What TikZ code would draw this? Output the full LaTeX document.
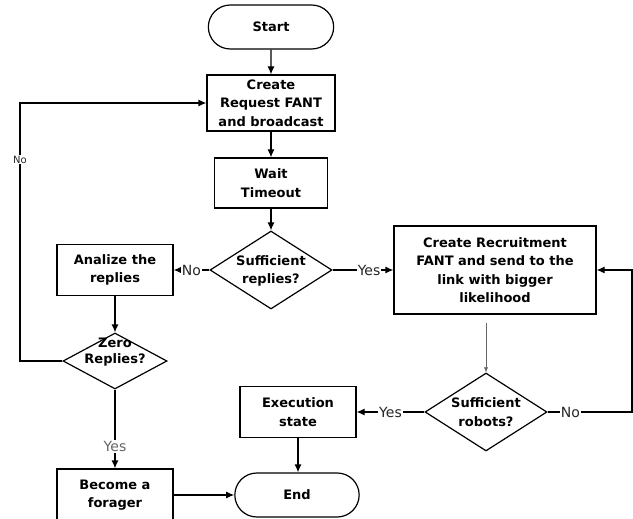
\documentclass[tikz,border=0pt]{standalone}
\usepackage{fontspec}
\setmainfont{DejaVu Sans}
\usepackage{tikz}
\usetikzlibrary{arrows.meta, shapes.geometric, shapes.misc}
\tikzstyle{procBox} = [draw, rectangle, line width=1.2pt, align=center,
   font=\fontsize{13}{18.5}\selectfont\bfseries, inner sep=2pt]
\tikzstyle{termBox} = [draw, rounded rectangle, line width=1.2pt,
   font=\fontsize{13}{18.5}\selectfont\bfseries, minimum height=44pt]
\tikzstyle{decShape} = [draw, diamond, line width=1.2pt, inner sep=0pt]
\tikzstyle{decText} = [font=\fontsize{13}{18.5}\selectfont\bfseries, align=center]
\tikzstyle{flowArrow} = [line width=1.2pt, -{Latex[length=8pt,width=7pt]}]
\tikzstyle{answer} = [fill=white, inner sep=1pt, text=black!85,
   font=\fontsize{14}{14}\selectfont]

\begin{document}
\begin{tikzpicture}[x=1pt, y=-1pt]
  \useasboundingbox (0,0) rectangle (633,519);
  \node[termBox, minimum width=132pt] at (271,27)(start){Start};
  \node[procBox, minimum width=128pt, minimum height=56pt] at (271,103)(request){Create\\Request FANT\\and broadcast};
  \node[procBox, minimum width=113pt, minimum height=50pt] at (271,183)(wait){Wait\\Timeout};
  \node[decShape, minimum width=122pt, minimum height=78pt,
     label={[decText, yshift=-1pt]center:Sufficient\\replies?}] at (271,270)(replies){};
  \node[procBox, minimum width=116pt, minimum height=51pt] at (115,270)(analyze){Analize the\\replies};
  \node[decShape, minimum width=104pt, minimum height=56pt,
     label={[decText, yshift=9pt]center:Zero\\[-2pt]Replies?}] at (115,361)(zero){};
  \node[procBox, minimum width=116pt, minimum height=52pt] at (115,495)(forager){Become a\\forager};
  \node[termBox, minimum width=131pt] at (297,495)(finish){End};
  \node[procBox, minimum width=116pt, minimum height=51pt] at (298,412)(execution){Execution\\state};
  \node[procBox, minimum width=202pt, minimum height=88pt] at (495,270)(recruit){Create Recruitment\\FANT and send to the\\link with bigger\\likelihood};
  \node[decShape, minimum width=122pt, minimum height=78pt,
     label={[decText]center:Sufficient\\robots?}] at (486,412)(robots){};
  \coordinate (leftTurn) at (20,361);
  \coordinate (rightTurn) at (632,412);

  \draw[flowArrow] (start) -- (request);
  \draw[flowArrow] (request) -- (wait);
  \draw[flowArrow] (wait) -- (replies);
  \draw[flowArrow] (replies) -- node[answer]{No} (analyze);
  \draw[flowArrow] (replies) -- node[answer, pos=0.6]{Yes} (recruit);
  \draw[flowArrow] (analyze) -- (zero);
  \draw[flowArrow] (zero.west) -- (leftTurn) |- node[answer, pos=0.39, font=\fontsize{10}{10}\selectfont]{No} (request.west);
  \draw[flowArrow] (zero) -- node[answer, pos=0.72, text=black!60]{Yes} (forager);
  \draw[flowArrow] (forager) -- (finish);
  \draw[flowArrow] (execution.south) -- (execution.south |- finish.north);
  \draw[-{Latex[length=5pt,width=4pt]}, gray!80!black, shorten <=8pt] (recruit.south -| robots.north) -- (robots.north);
  \draw[flowArrow] (robots) -- node[answer]{Yes} (execution);
  \draw[flowArrow] (robots.east) -- node[answer, pos=0.27]{No} (rightTurn) |- (recruit.east);
\end{tikzpicture}
\end{document}
